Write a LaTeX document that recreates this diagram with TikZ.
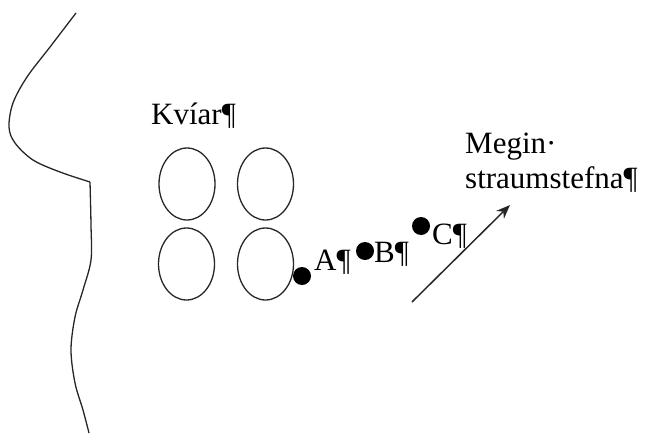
\documentclass[tikz,border=0pt]{standalone}
\usepackage{fontspec}
\setmainfont{Liberation Serif}
\usetikzlibrary{arrows.meta,shapes.geometric}
\begin{document}
\begin{tikzpicture}[x=1pt,y=-1pt,
  line/.style={line width=1.3pt,black!85},
  pen/.style={ellipse,draw,line width=1.3pt,black!85,minimum width=56pt,minimum height=72pt,inner sep=0pt},
  pt/.style={circle,fill=black,minimum size=18pt,inner sep=0pt},
  lbl/.style={anchor=base west,inner sep=0pt,font=\fontsize{31}{36}\selectfont},
  flow/.style={line width=1.5pt,black!85,-{Stealth[length=14pt,width=11pt]}}]
\useasboundingbox (0,0) rectangle (650,439);
% coastline
\draw[line] plot[smooth,tension=0.55] coordinates {(76,13) (50,47) (27,77) (13,103) (9,127) (15,143) (33,160) (60,172) (90,182)};
\draw[line] plot[smooth,tension=0.55] coordinates {(90,182) (91,225) (91,260) (83,290) (75,317) (71,350) (75,383) (83,410) (89,433)};
% pens
\node[pen] (p1) at (187,184) {};
\node[pen] (p2) at (265.5,184) {};
\node[pen] (p3) at (186.5,264) {};
\node[pen] (p4) at (265.5,264) {};
\node[lbl] (kviar) at (151,124) {Kvíar¶};
% points
\node[pt] (A) at (302,276) {};
\node[pt] (B) at (365,251) {};
\node[pt] (C) at (421,226) {};
\node[lbl] (la) at (314,270) {A¶};
\node[lbl] (lb) at (374,262) {B¶};
\node[lbl] (lc) at (432,244) {C¶};
% current
\coordinate (t0) at (412,302);
\coordinate (t1) at (510,205);
\draw[flow] (t0) -- (t1);
\node[lbl] (ms1) at (465,153) {Megin·};
\node[lbl] (ms2) at (465,188) {straumstefna¶};
\end{tikzpicture}
\end{document}
